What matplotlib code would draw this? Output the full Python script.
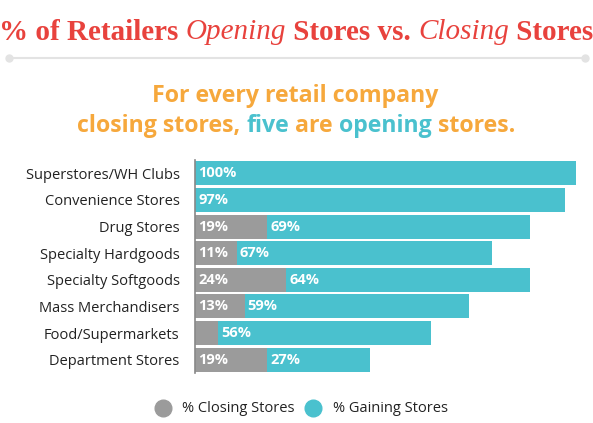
import numpy as np
import matplotlib
matplotlib.use("Agg")
import matplotlib.pyplot as plt

categories = ["Superstores/WH Clubs", "Convenience Stores", "Drug Stores",
              "Specialty Hardgoods", "Specialty Softgoods", "Mass Merchandisers",
              "Food/Supermarkets", "Department Stores"]
closing = [0, 0, 19, 11, 24, 13, 6, 19]
closing_labels = ["", "", "19%", "11%", "24%", "13%", "", "19%"]
gaining = [100, 97, 69, 67, 64, 59, 56, 27]

red = "#E8423D"
orange = "#F6A83C"
teal = "#4AC1CE"
grey = "#9B9B9B"
sans = "Open Sans"

fig = plt.figure(figsize=(5.93, 4.23), dpi=100)
ax = fig.add_axes([195 / 593, 1 - 373 / 423, 381 / 593, 213 / 423])

y = np.arange(len(categories))
ax.barh(y, closing, height=0.9, color=grey, linewidth=0)
ax.barh(y, gaining, left=closing, height=0.9, color=teal, linewidth=0)

for i in range(len(categories)):
    if closing_labels[i]:
        ax.text(0.8, y[i], closing_labels[i], color="white",
                fontsize=10.5, fontweight="bold", family=sans, va="center", ha="left")
    ax.text(closing[i] + 0.8, y[i], f"{gaining[i]}%", color="white",
            fontsize=10.5, fontweight="bold", family=sans, va="center", ha="left")

ax.set_xlim(0, 100)
ax.set_ylim(len(categories) - 0.5, -0.5)
ax.set_yticks(y)
ax.set_yticklabels(categories, fontsize=10.5, family=sans, color="#222222")
ax.tick_params(axis="y", length=0, pad=11)
ax.set_xticks([])
for s in ["top", "right", "bottom"]:
    ax.spines[s].set_visible(False)
ax.spines["left"].set_color("#888888")
ax.spines["left"].set_linewidth(1.2)


def text_row(y_px, pieces, x_center, fontsize, family):
    renderer = fig.canvas.get_renderer()
    objs = []
    for txt, color, style, weight in pieces:
        t = fig.text(0, 1 - y_px / 423, txt, color=color, style=style,
                     fontweight=weight, fontsize=fontsize, family=family,
                     va="center", ha="left")
        objs.append(t)
    widths = [t.get_window_extent(renderer).width for t in objs]
    total = sum(widths)
    x = x_center - total / 2
    for t, w in zip(objs, widths):
        t.set_x(x / 593)
        x += w


fig.canvas.draw()
text_row(32, [("% of Retailers ", red, "normal", "bold"),
              ("Opening", red, "italic", "normal"),
              (" Stores vs. ", red, "normal", "bold"),
              ("Closing", red, "italic", "normal"),
              (" Stores", red, "normal", "bold")], 296, 21, "Liberation Serif")

text_row(96, [("For every retail company", orange, "normal", "bold")], 295, 16.7, sans)
text_row(126, [("closing stores, ", orange, "normal", "bold"),
               ("five", teal, "normal", "bold"),
               (" are ", orange, "normal", "bold"),
               ("opening", teal, "normal", "bold"),
               (" stores.", orange, "normal", "bold")], 296, 16.7, sans)

# divider under the title
fig.add_artist(plt.Line2D([9 / 593, 585 / 593], [1 - 58 / 423, 1 - 58 / 423],
                          color="#E3E3E3", linewidth=1.5))
fig.add_artist(plt.Line2D([9 / 593, 585 / 593], [1 - 58 / 423, 1 - 58 / 423],
                          color="#E3E3E3", linestyle="none", marker="o", markersize=5))

# legend
fig.add_artist(plt.Line2D([163 / 593], [1 - 408 / 423], marker="o", markersize=12,
                          color=grey, linestyle="none"))
fig.text(182 / 593, 1 - 408 / 423, "% Closing Stores", fontsize=10.5, family=sans,
         va="center", color="#222222")
fig.add_artist(plt.Line2D([313 / 593], [1 - 408 / 423], marker="o", markersize=12,
                          color=teal, linestyle="none"))
fig.text(333 / 593, 1 - 408 / 423, "% Gaining Stores", fontsize=10.5, family=sans,
         va="center", color="#222222")

fig.savefig("out.png", dpi=100)
